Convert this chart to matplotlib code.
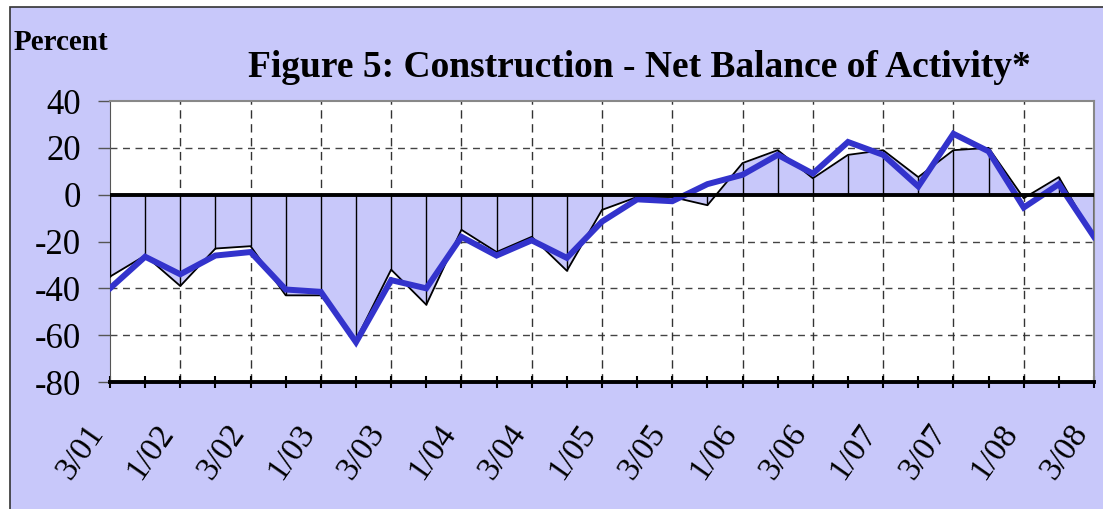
import numpy as np
import matplotlib
matplotlib.use("Agg")
from matplotlib import pyplot as plt

# quarterly, 3/01 .. 3/08
quarters = ["3/01", "4/01", "1/02", "2/02", "3/02", "4/02", "1/03", "2/03",
            "3/03", "4/03", "1/04", "2/04", "3/04", "4/04", "1/05", "2/05",
            "3/05", "4/05", "1/06", "2/06", "3/06", "4/06", "1/07", "2/07",
            "3/07", "4/07", "1/08", "2/08", "3/08"]
actual = [-35, -26, -39, -23, -22, -43, -43, -62, -32, -47, -15, -24.5,
          -18, -32.5, -6.5, -1, -1, -4.5, 13.5, 19, 7, 17, 19, 7.5,
          19, 20, -1.5, 7.5, -18.5]
expected = [-40, -26.5, -34, -26, -24.5, -40.5, -41.5, -63, -36.5, -40, -18, -26,
            -19.5, -27, -11.5, -2, -2.8, 4.5, 8.5, 17, 9, 22.5, 17, 3.5,
            26, 18.5, -5.5, 4.5, -18]

bg = "#c8c8fa"
plt.rcParams['font.family'] = ['Liberation Serif', 'DejaVu Serif']

fig = plt.figure(figsize=(11.03, 5.09), dpi=100, facecolor="white")
# chart area frame
frame = plt.Rectangle((10/1103, -0.1), 1.2, 1 - 7/509 + 0.1,
                      transform=fig.transFigure, facecolor=bg,
                      edgecolor="#333333", linewidth=1.2, zorder=-1)
fig.add_artist(frame)
ax = fig.add_axes([110/1103, 1 - 382/509, 984/1103, 281/509])
ax.set_facecolor("white")

x = np.arange(len(quarters))
ax.fill_between(x, 0, actual, color=bg, linewidth=0, zorder=2)
ax.vlines(x, 0, actual, color="black", linewidth=1.0, zorder=3)
ax.plot(x, actual, color="black", linewidth=1.3, zorder=4)
ax.plot(x, expected, color="#3333cc", linewidth=4.3, solid_joinstyle="miter", zorder=5)
ax.axhline(0, color="black", linewidth=2.8, zorder=6)

ax.set_xlim(0, len(quarters) - 1)
ax.set_ylim(-80, 40)
ax.set_yticks(range(-80, 41, 20))
ax.set_yticklabels([str(v) for v in range(-80, 41, 20)], fontsize=25)
ax.set_xticks(x)
ax.set_xticklabels([q if i % 2 == 0 else "" for i, q in enumerate(quarters)],
                   fontsize=24, rotation=55, ha="right", va="top")
ax.tick_params(axis="x", direction="inout", length=9, width=1.5, pad=22)
ax.tick_params(axis="y", direction="out", length=9, width=1, colors="#555555", labelcolor="black", pad=12)

# dashed grid
for v in [20, -20, -40, -60]:
    ax.axhline(v, color="#444444", linewidth=1, dashes=(5, 4), zorder=1)
for i in range(2, len(quarters) - 1, 2):
    ax.axvline(i, color="#333333", linewidth=1, dashes=(6, 4), zorder=1)

for s in ["top", "right"]:
    ax.spines[s].set_color("#888888")
    ax.spines[s].set_linewidth(1.5)
ax.spines["left"].set_color("#555555")
ax.spines["bottom"].set_linewidth(2.8)
ax.spines["bottom"].set_zorder(7)

fig.text(14/1103, 1 - 50/509, "Percent", fontsize=21, fontweight="bold", va="baseline")
fig.text(639/1103, 1 - 77/509, "Figure 5: Construction - Net Balance of Activity*",
         fontsize=27, fontweight="bold", ha="center", va="baseline")

fig.savefig("out.png", dpi=100, facecolor="white")
